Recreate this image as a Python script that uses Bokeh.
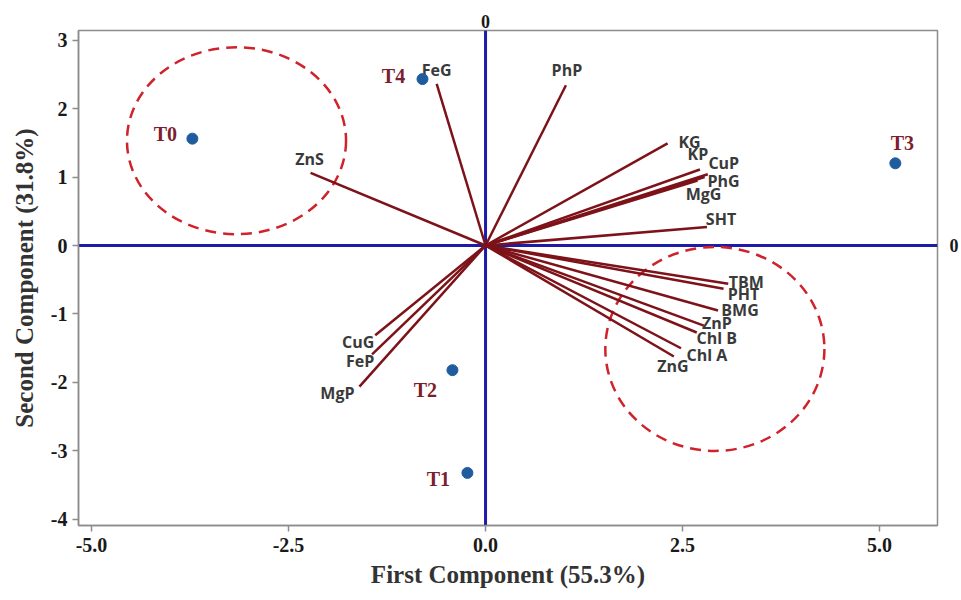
from bokeh.plotting import figure
from bokeh.models import ColumnDataSource, Range1d, FixedTicker, NumeralTickFormatter, LinearAxis
from bokeh.core.properties import value
from bokeh.embed import file_html
from bokeh.resources import INLINE

# PCA scores of the treatments
treatments = ["T0", "T1", "T2", "T3", "T4"]
pc1_scores = [-3.72, -0.23, -0.42, 5.20, -0.80]
pc2_scores = [1.56, -3.32, -1.82, 1.20, 2.43]

# loadings of the measured traits (biplot scale)
traits = ["FeG", "ZnS", "PhP", "KG", "KP", "CuP", "PhG", "MgG", "SHT", "TBM",
          "PHT", "BMG", "ZnP", "Chl B", "Chl A", "ZnG", "CuG", "FeP", "MgP"]
pc1_load = [-0.62, -2.22, 1.02, 2.31, 2.72, 2.82, 2.78, 2.69, 2.81, 3.08,
            3.02, 2.95, 2.77, 2.68, 2.48, 2.39, -1.40, -1.44, -1.60]
pc2_load = [2.36, 1.06, 2.34, 1.49, 1.11, 1.04, 1.00, 0.95, 0.27, -0.56,
            -0.63, -0.95, -1.17, -1.27, -1.50, -1.62, -1.31, -1.59, -2.06]

# treatment groupings (centre, width, height)
group_x = [-3.16, 2.91]
group_y = [1.53, -1.51]
group_w = [2.78, 2.78]
group_h = [2.73, 2.98]

x_ticks = [-5.0, -2.5, 0.0, 2.5, 5.0]
y_ticks = [-4, -3, -2, -1, 0, 1, 2, 3]

# label placement in screen pixels (dx right, dy down)
trait_dx = [0, -1, 1, 22, -2, 16, 19, 6, 14, 18, 20, 22, 13, 20, 26, -1, -17, -12, -22]
trait_dy = [-14, -14, -15, -1, -15, -11, 4, 14, -8, -2, 5, -1, -3, 6, 7, 10, 7, 7, 6]
treat_dx = [-27, -29, -27, 7, -29]
treat_dy = [-5, 6, 20, -20, -3]

SERIF = value("Liberation Serif")
SANS = value("Open Sans")

p = figure(width=961, height=600, output_backend="svg", toolbar_location=None,
           x_range=Range1d(-5.165, 5.735), y_range=Range1d(-4.088, 3.139),
           min_border_left=78, min_border_right=23, min_border_top=30,
           min_border_bottom=75)
p.background_fill_color = "white"
p.border_fill_color = "white"
p.outline_line_color = "#8c8c8c"
p.outline_line_width = 1.5
p.xgrid.visible = False
p.ygrid.visible = False

for ax in (p.xaxis[0], p.yaxis[0]):
    ax.axis_line_color = "#8c8c8c"
    ax.axis_line_width = 1.5
    ax.major_tick_line_color = "#8c8c8c"
    ax.major_tick_line_width = 1.5
    ax.major_tick_in = 0
    ax.major_tick_out = 6
    ax.minor_tick_line_color = None
    ax.major_label_text_font = "Liberation Serif"
    ax.major_label_text_font_style = "bold"
    ax.major_label_text_font_size = "20px"
    ax.major_label_text_color = "#1a1a1a"
    ax.axis_label_text_font = "Liberation Serif"
    ax.axis_label_text_font_style = "bold"
    ax.axis_label_text_font_size = "25px"
    ax.axis_label_text_color = "#333333"

p.xaxis[0].ticker = FixedTicker(ticks=x_ticks)
p.xaxis[0].formatter = NumeralTickFormatter(format="0.0")
p.xaxis[0].axis_label = "First Component (55.3%)"
p.xaxis[0].major_label_standoff = 6
p.xaxis[0].axis_label_standoff = 6
p.yaxis[0].ticker = FixedTicker(ticks=y_ticks)
p.yaxis[0].formatter = NumeralTickFormatter(format="0")
p.yaxis[0].axis_label = "Second Component (31.8%)"
p.yaxis[0].major_label_standoff = 5
p.yaxis[0].axis_label_standoff = 10

# "0" markers where the reference lines meet the frame
for side, standoff in (("above", 3), ("right", 12)):
    zax = LinearAxis(ticker=FixedTicker(ticks=[0]),
                     formatter=NumeralTickFormatter(format="0"))
    zax.axis_line_color = None
    zax.major_tick_line_color = None
    zax.minor_tick_line_color = None
    zax.major_tick_in = 0
    zax.major_tick_out = 0
    zax.major_label_standoff = standoff
    zax.major_label_text_font = "Liberation Serif"
    zax.major_label_text_font_style = "bold"
    zax.major_label_text_font_size = "18px"
    zax.major_label_text_color = "#1a1a1a"
    p.add_layout(zax, side)

# reference lines through the origin
p.line(x=[p.x_range.start, p.x_range.end], y=[0, 0], line_color="#1c1ca8", line_width=3)
p.line(x=[0, 0], y=[p.y_range.start, p.y_range.end], line_color="#1c1ca8", line_width=3)

# group ellipses
p.ellipse(x=group_x, y=group_y, width=group_w, height=group_h,
          fill_color=None, line_color="#d0222a", line_width=2.5, line_dash="11 7")

# loading vectors
tsrc = ColumnDataSource(dict(x0=[0] * len(traits), y0=[0] * len(traits),
                             x=pc1_load, y=pc2_load, name=traits,
                             dx=trait_dx, dy=trait_dy))
p.segment(x0="x0", y0="y0", x1="x", y1="y", source=tsrc,
          line_color="#7d1219", line_width=2.5)
p.text(x="x", y="y", text="name", source=tsrc, x_offset="dx", y_offset="dy",
       text_font=SANS, text_font_style="bold", text_font_size="16px",
       text_color="#3a3a3a", text_align="center", text_baseline="middle")

# treatment scores
ssrc = ColumnDataSource(dict(x=pc1_scores, y=pc2_scores, name=treatments,
                             dx=treat_dx, dy=treat_dy))
p.scatter(x="x", y="y", source=ssrc, size=11, marker="circle",
          fill_color="#1f5c9e", line_color="#1f5c9e")
p.text(x="x", y="y", text="name", source=ssrc, x_offset="dx", y_offset="dy",
       text_font=SERIF, text_font_style="bold", text_font_size="20px",
       text_color="#7b1f2e", text_align="center", text_baseline="middle")

open("out.html", "w").write(file_html(p, INLINE))
